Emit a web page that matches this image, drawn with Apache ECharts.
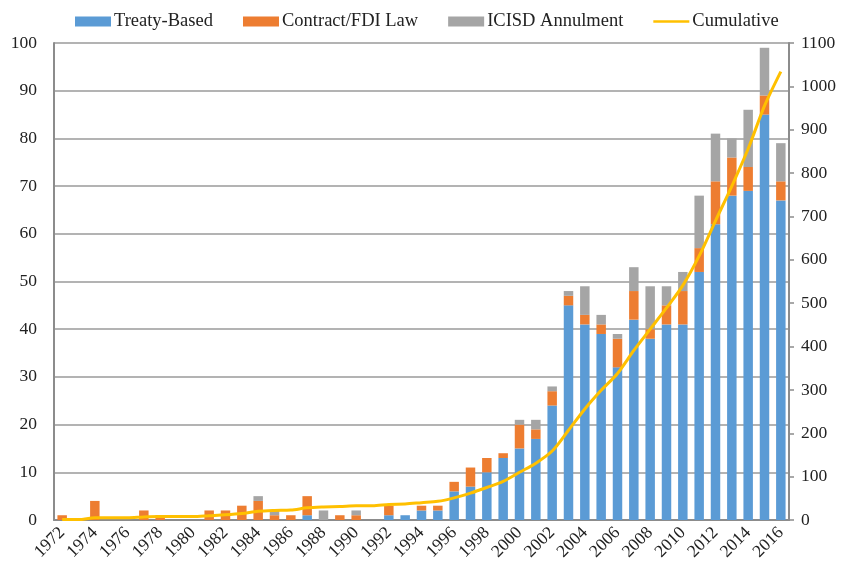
<!DOCTYPE html>
<html>
<head>
<meta charset="utf-8">
<script src="https://cdn.jsdelivr.net/npm/echarts@6/dist/echarts.min.js"></script>
<style>html,body{margin:0;padding:0;background:#fff}#c{width:842px;height:569px}</style>
</head>
<body>
<div id="c"></div>
<script>
const years = ['1972','1973','1974','1975','1976','1977','1978','1979','1980','1981','1982','1983','1984','1985','1986','1987','1988','1989','1990','1991','1992','1993','1994','1995','1996','1997','1998','1999','2000','2001','2002','2003','2004','2005','2006','2007','2008','2009','2010','2011','2012','2013','2014','2015','2016'];
const treatyBased = [0,0,0,0,0,0,0,0,0,0,0,0,0,0,0,1,0,0,0,0,1,1,2,2,6,7,10,13,15,17,24,45,41,39,32,42,38,41,41,52,62,68,69,85,67];
const contractFDI = [1,0,4,0,0,2,1,0,0,2,2,3,4,1,1,4,0,1,1,0,2,0,1,1,2,4,3,1,5,2,3,2,2,2,6,6,2,4,7,5,9,8,5,4,4];
const icsidAnnulment = [0,0,0,0,0,0,0,0,0,0,0,0,1,1,0,0,2,0,1,0,0,0,0,0,0,0,0,0,1,2,1,1,6,2,1,5,9,4,4,11,10,4,12,10,8];
const cumulative = [1,1,5,5,5,7,8,8,8,10,12,15,20,22,23,28,30,31,33,33,36,37,40,43,51,62,75,89,110,131,159,207,256,299,338,391,440,489,541,609,690,770,856,955,1034];
const leftTicks = {min:0, max:100, interval:10};
const rightTicks = {min:0, max:1100, interval:100};

const font = 'Liberation Serif';
const chart = echarts.init(document.getElementById('c'), null, {renderer:'canvas'});
chart.setOption({
  animation:false,
  textStyle:{fontFamily:font},
  legend:{
    top:7, left:70, itemWidth:36, itemHeight:10, itemGap:30,
    textStyle:{fontFamily:font, fontSize:18.5, color:'#222', padding:[0,0,0,-2]},
    data:[
      {name:'Treaty-Based', icon:'rect'},
      {name:'Contract/FDI Law', icon:'rect'},
      {name:'ICISD Annulment', icon:'rect'},
      {name:'Cumulative', icon:'path://M0,0 L42,0 L42,3 L0,3 Z'}
    ]
  },
  grid:{left:54, right:53, top:43, bottom:49, containLabel:false},
  xAxis:{
    type:'category', data:years, boundaryGap:true,
    axisLine:{show:true, lineStyle:{color:'#8c8c8c', width:2}},
    axisTick:{show:false},
    axisLabel:{interval:1, rotate:45, fontFamily:font, fontSize:17.5, color:'#222', margin:10}
  },
  yAxis:[
    {type:'value', min:leftTicks.min, max:leftTicks.max, interval:leftTicks.interval,
     axisLine:{show:true, lineStyle:{color:'#8c8c8c', width:2}},
     axisTick:{show:false},
     splitLine:{lineStyle:{color:'#9a9a9a', width:1.5}},
     axisLabel:{fontFamily:font, fontSize:17.5, color:'#222', margin:17}},
    {type:'value', min:rightTicks.min, max:rightTicks.max, interval:rightTicks.interval, position:'right',
     axisLine:{show:true, lineStyle:{color:'#8c8c8c', width:2}},
     axisTick:{show:true, length:5, lineStyle:{color:'#8c8c8c', width:1.5}},
     splitLine:{show:false},
     axisLabel:{fontFamily:font, fontSize:17.5, color:'#222', margin:12, formatter:function(v){return String(v);}}}
  ],
  series:[
    {name:'Treaty-Based', type:'bar', stack:'a', data:treatyBased, barWidth:'58%', itemStyle:{color:'#5B9BD5'}},
    {name:'Contract/FDI Law', type:'bar', stack:'a', data:contractFDI, itemStyle:{color:'#ED7D31'}},
    {name:'ICISD Annulment', type:'bar', stack:'a', data:icsidAnnulment, itemStyle:{color:'#A5A5A5'}},
    {name:'Cumulative', type:'line', yAxisIndex:1, data:cumulative, symbol:'none', smooth:0.3,
     lineStyle:{color:'#FFC000', width:3}, itemStyle:{color:'#FFC000'}}
  ]
});
</script>
</body>
</html>
